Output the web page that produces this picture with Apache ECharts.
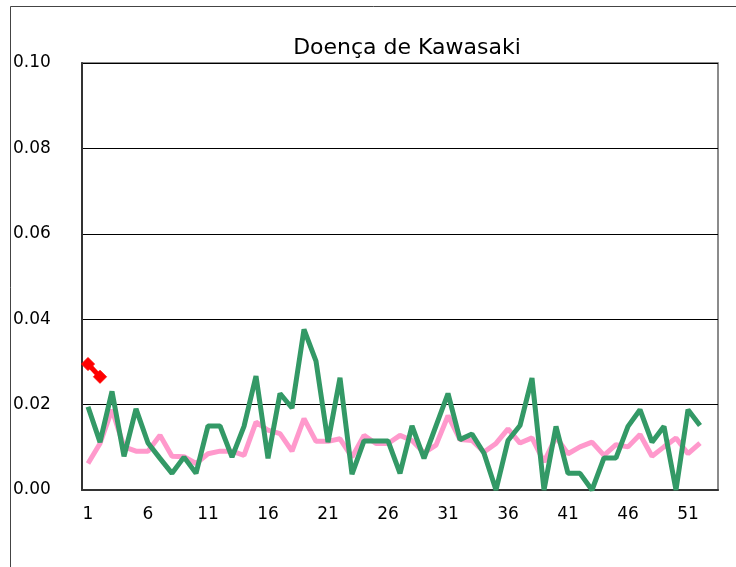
<!DOCTYPE html>
<html>
<head>
<meta charset="utf-8">
<script src="https://cdn.jsdelivr.net/npm/echarts@6/dist/echarts.min.js"></script>
<style>
  html, body { margin: 0; padding: 0; background: #fff; }
  #main { width: 736px; height: 567px; }
</style>
</head>
<body>
<div id="main"></div>
<script>
// semanas epidemiologicas 1..53
var weeks = [];
for (var w = 1; w <= 53; w++) weeks.push(String(w));

// linha rosa
var pinkValues = [0.0062, 0.0109, 0.0188, 0.0101, 0.0091, 0.0091, 0.0128, 0.0079, 0.0078, 0.0062,
  0.0085, 0.0091, 0.0091, 0.0081, 0.0159, 0.0140, 0.0132, 0.0091, 0.0167, 0.0114,
  0.0114, 0.0120, 0.0077, 0.0128, 0.0109, 0.0109, 0.0128, 0.0116, 0.0087, 0.0105,
  0.0174, 0.0118, 0.0116, 0.0089, 0.0109, 0.0143, 0.0110, 0.0122, 0.0066, 0.0124,
  0.0085, 0.0101, 0.0112, 0.0081, 0.0106, 0.0101, 0.0130, 0.0079, 0.0101, 0.0122,
  0.0085, 0.0110];

// linha verde
var greenValues = [0.0195, 0.0112, 0.0231, 0.0079, 0.0190, 0.0110, 0.0074, 0.0039, 0.0077, 0.0039,
  0.0150, 0.0150, 0.0077, 0.0149, 0.0267, 0.0074, 0.0226, 0.0192, 0.0376, 0.0302,
  0.0112, 0.0263, 0.0037, 0.0115, 0.0115, 0.0115, 0.0039, 0.0150, 0.0074, 0.0150,
  0.0226, 0.0118, 0.0131, 0.0086, 0.0000, 0.0116, 0.0151, 0.0262, 0.0000, 0.0149,
  0.0039, 0.0039, 0.0000, 0.0075, 0.0075, 0.0149, 0.0188, 0.0112, 0.0149, 0.0000,
  0.0188, 0.0151];

// serie vermelha (so duas semanas)
var redValues = [0.0295, 0.0265];

var yTicks = [0, 0.02, 0.04, 0.06, 0.08, 0.10];

var myChart = echarts.init(document.getElementById('main'));

var option = {
  animation: false,
  backgroundColor: '#fff',
  title: {
    text: 'Doença de Kawasaki',
    left: 402,
    textAlign: 'center',
    top: 32,
    textStyle: { fontFamily: 'DejaVu Sans', fontSize: 22, fontWeight: 'normal', color: '#000' }
  },
  graphic: [{
    type: 'rect',
    shape: { x: 10.5, y: 6.5, width: 740, height: 600 },
    style: { fill: 'none', stroke: '#444', lineWidth: 1 },
    silent: true
  }],
  grid: {
    left: 82, right: 18, top: 63, bottom: 77,
    show: true, borderColor: '#666', borderWidth: 1.5
  },
  xAxis: {
    type: 'category',
    data: weeks,
    boundaryGap: true,
    axisLine: { lineStyle: { color: '#333', width: 2 } },
    axisTick: { inside: true, length: 6, interval: 4, lineStyle: { color: '#333' } },
    axisLabel: { interval: 4, margin: 16, fontFamily: 'DejaVu Sans', fontSize: 17, color: '#000' }
  },
  yAxis: {
    type: 'value',
    min: yTicks[0],
    max: yTicks[yTicks.length - 1],
    interval: 0.02,
    axisLine: { show: true, lineStyle: { color: '#333', width: 2 } },
    axisTick: { show: false },
    splitLine: { lineStyle: { color: '#000', width: 1 } },
    axisLabel: {
      align: 'left', margin: 69,
      fontFamily: 'DejaVu Sans', fontSize: 17, color: '#000',
      formatter: function (v) { return v.toFixed(2); }
    }
  },
  series: [
    {
      type: 'line',
      data: pinkValues,
      symbol: 'none',
      lineStyle: { color: '#FF99CC', width: 5 },
      z: 2
    },
    {
      type: 'line',
      data: greenValues,
      symbol: 'none',
      lineStyle: { color: '#339966', width: 5 },
      z: 3
    },
    {
      type: 'line',
      data: redValues,
      symbol: 'diamond',
      symbolSize: 13,
      showSymbol: true,
      showAllSymbol: true,
      itemStyle: { color: '#FF0000', borderColor: '#FF0000', borderWidth: 1 },
      lineStyle: { color: '#FF0000', width: 5 },
      z: 4
    }
  ]
};

myChart.setOption(option);
</script>
</body>
</html>
